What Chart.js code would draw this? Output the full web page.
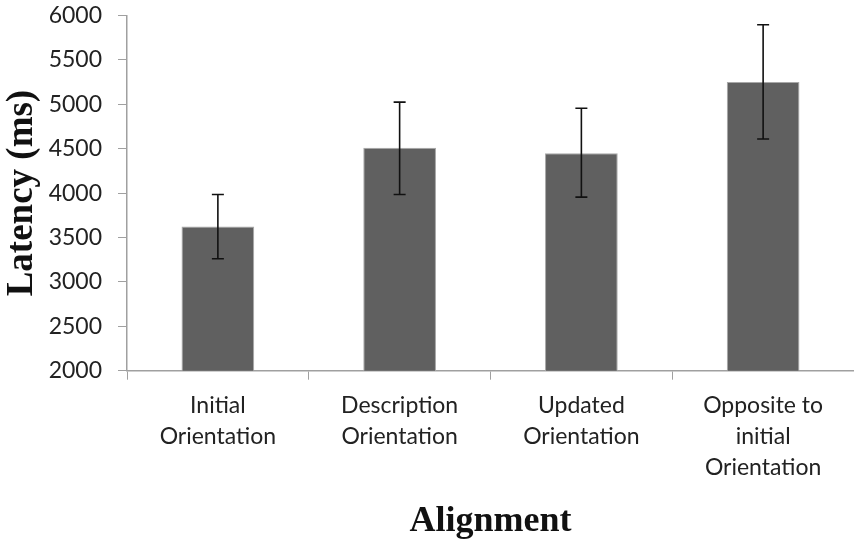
<!DOCTYPE html>
<html>
<head>
<meta charset="utf-8">
<script src="https://cdn.jsdelivr.net/npm/chart.js@4/dist/chart.umd.min.js"></script>
<style>
  html, body { margin: 0; padding: 0; background: #ffffff; }
  #wrap { width: 854px; height: 540px; position: relative; }
</style>
</head>
<body>
<div id="wrap"><canvas id="c" width="854" height="540"></canvas></div>
<script>
const categories = [
  ["Initial", "Orientation"],
  ["Description", "Orientation"],
  ["Updated", "Orientation"],
  ["Opposite to", "initial", "Orientation"]
];
const meanLatency = [3625, 4510, 4450, 5250];
const errLow = [3260, 3985, 3955, 4610];
const errHigh = [3985, 5025, 4955, 5895];
const yMin = 2000, yMax = 6000, yStep = 500;

const errorBars = {
  id: 'errorBars',
  afterDatasetsDraw(chart) {
    const ctx = chart.ctx;
    const meta = chart.getDatasetMeta(0);
    const ys = chart.scales.y;
    ctx.save();
    ctx.strokeStyle = '#111111';
    ctx.lineWidth = 1.6;
    meta.data.forEach((bar, i) => {
      const x = bar.x;
      const yl = ys.getPixelForValue(errLow[i]);
      const yh = ys.getPixelForValue(errHigh[i]);
      const cap = 6;
      ctx.beginPath();
      ctx.moveTo(x, yl); ctx.lineTo(x, yh);
      ctx.moveTo(x - cap, yl); ctx.lineTo(x + cap, yl);
      ctx.moveTo(x - cap, yh); ctx.lineTo(x + cap, yh);
      ctx.stroke();
    });
    ctx.restore();
  }
};

new Chart(document.getElementById('c'), {
  type: 'bar',
  data: {
    labels: categories,
    datasets: [{
      data: meanLatency,
      backgroundColor: '#606060',
      borderColor: '#a8a8a8',
      borderWidth: 1,
      barPercentage: 0.4,
      categoryPercentage: 1.0
    }]
  },
  options: {
    responsive: false,
    animation: false,
    devicePixelRatio: 1,
    layout: { padding: { top: 15.5, right: -3, left: 0, bottom: 0 } },
    plugins: { legend: { display: false }, tooltip: { enabled: false } },
    scales: {
      x: {
        grid: { display: true, drawOnChartArea: false, drawTicks: true, tickLength: 9, color: '#a0a0a0', lineWidth: 1, offset: true },
        border: { display: true, color: '#a0a0a0', width: 1.5 },
        ticks: { color: '#222222', font: { family: 'Lato', size: 23, lineHeight: 1.35 }, padding: 10, maxRotation: 0, autoSkip: false },
        title: { display: true, text: 'Alignment', color: '#111111', font: { family: 'Liberation Serif', size: 36, weight: 'bold', lineHeight: 1.0 }, padding: { top: 0, bottom: 0 } },
        afterFit(scale) { scale.height = 169.3; scale.paddingLeft = 0; scale.paddingRight = 0; }
      },
      y: {
        min: yMin, max: yMax,
        grid: { display: true, drawOnChartArea: false, drawTicks: true, tickLength: 9, color: '#a0a0a0', lineWidth: 1 },
        border: { display: true, color: '#a0a0a0', width: 1.5 },
        ticks: { stepSize: yStep, color: '#222222', font: { family: 'Lato', size: 23 }, padding: 16, callback: (v) => String(v) },
        title: { display: true, text: 'Latency (ms)', color: '#111111', font: { family: 'Liberation Serif', size: 37, weight: 'bold', lineHeight: 1.2 }, padding: { top: 0, bottom: 0 } },
        afterFit(scale) { scale.width = 127; scale.paddingTop = 0; scale.paddingBottom = 0; }
      }
    }
  },
  plugins: [errorBars]
});
</script>
</body>
</html>
